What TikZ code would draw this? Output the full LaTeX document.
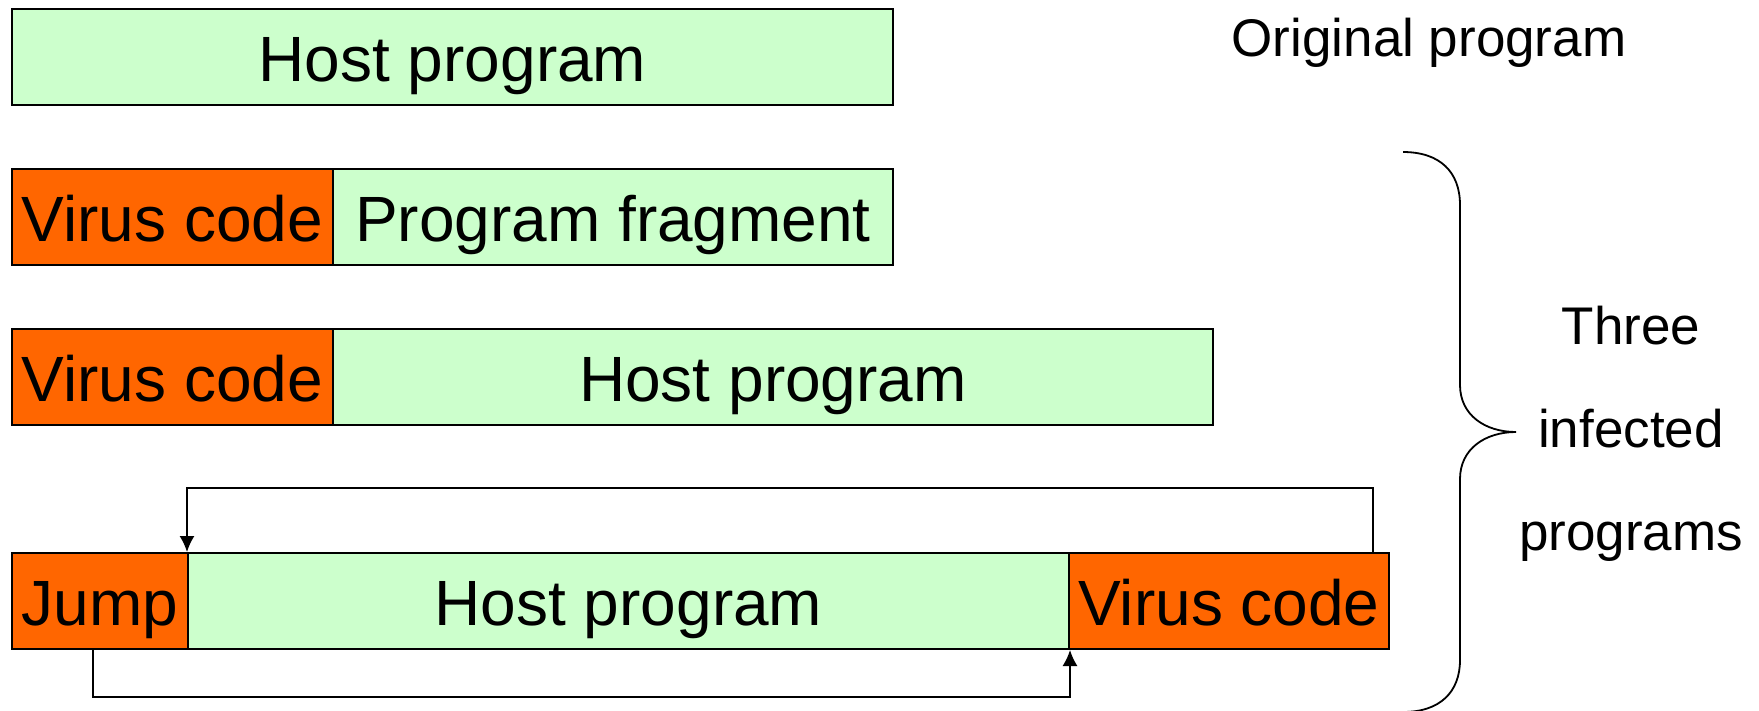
\documentclass[tikz,border=0pt]{standalone}
\usepackage{fontspec}
\setmainfont{Liberation Sans}
\usetikzlibrary{arrows.meta}
\definecolor{hostgreen}{HTML}{CCFFCC}
\definecolor{virusorange}{HTML}{FF6600}
\begin{document}
\begin{tikzpicture}[x=1pt,y=-1pt,
  seg/.style={draw=black,line width=2pt,inner sep=0pt,anchor=north west,
    minimum height=96pt,text height=48pt,text depth=0pt,
    font=\fontsize{64}{77}\selectfont},
  host/.style={seg,fill=hostgreen},
  virus/.style={seg,fill=virusorange},
  note/.style={inner sep=0pt,anchor=base,font=\fontsize{53}{64}\selectfont},
  link/.style={line width=1.6pt},
  tip/.style={-{Latex[length=16pt,width=15pt]}}]
\useasboundingbox (0,0) rectangle (1759,710);

% original program
\node[host,minimum width=881pt] (h1) at (11,8) {Host program};
\node[note] (orig) at (1429,56) {Original program};

% virus prepended, host truncated
\node[virus,minimum width=321pt] (v2) at (11,168) {Virus code};
\node[host,minimum width=560pt] (f2) at (332,168) {Program fragment};

% virus prepended, whole host kept
\node[virus,minimum width=321pt] (v3) at (11,328) {Virus code};
\node[host,minimum width=880pt] (h3) at (332,328) {Host program};

% jump at front, virus appended
\node[virus,minimum width=176pt] (j4) at (11,552) {Jump};
\node[host,minimum width=881pt] (h4) at (187,552) {Host program};
\node[virus,minimum width=320pt] (v4) at (1068,552) {Virus code};

% control flow: jump -> virus, virus -> host
\coordinate (jb) at ([xshift=-7pt]j4.south);
\draw[link,tip] (jb) -- ++(0,47) -| (h4.south east);
\coordinate (vt) at ([xshift=-17pt]v4.north east);
\draw[link,tip] (vt) -- ++(0,-64) -| (h4.north west);

% brace over the three infected variants
\draw[line width=1.8pt]
  (1403,152) .. controls (1440,152) and (1460,172) .. (1460,205)
  -- (1460,385)
  .. controls (1460,415) and (1485,432) .. (1516,432)
  .. controls (1485,432) and (1460,449) .. (1460,479)
  -- (1460,660)
  .. controls (1460,692) and (1440,712) .. (1403,712);

\node[note] (t1) at (1631,344) {Three};
\node[note] (t2) at (1631,447) {infected};
\node[note] (t3) at (1631,550) {programs};
\end{tikzpicture}
\end{document}
